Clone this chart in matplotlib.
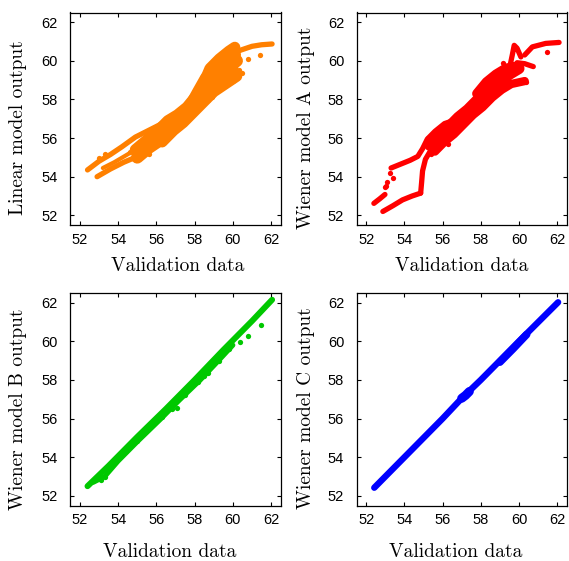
import matplotlib
matplotlib.use("Agg")
import matplotlib.pyplot as plt

# ---------------------------------------------------------------------------
# Linear model output vs validation data (orange)
lin_top_x = [52.4, 53.0, 53.6, 54.2, 54.9, 55.6, 56.3, 56.8]
lin_top_y = [54.35, 54.8, 55.15, 55.55, 56.05, 56.4, 56.75, 57.0]
lin_low_x = [52.9, 53.6, 54.3, 54.9, 55.4]
lin_low_y = [54.0, 54.4, 54.75, 55.0, 55.3]
lin_mid_x = [53.2, 53.8, 54.4, 55.0]
lin_mid_y = [54.45, 54.75, 55.1, 55.45]
lin_c1_x = [54.9, 55.5, 56.1, 56.6, 57.1, 57.6, 58.1, 58.5, 58.8, 59.3, 59.8, 60.1]
lin_c1_y = [55.4, 55.9, 56.4, 56.9, 57.2, 57.6, 58.2, 58.9, 59.6, 60.1, 60.5, 60.7]
lin_c2_x = [55.0, 55.6, 56.2, 56.7, 57.3, 57.8, 58.3, 58.8, 59.3, 59.8, 60.2]
lin_c2_y = [55.0, 55.5, 55.9, 56.3, 56.9, 57.4, 58.0, 58.7, 59.3, 59.7, 60.0]
lin_c3_x = [56.3, 56.9, 57.4, 57.9, 58.4, 59.0, 59.6, 60.2]
lin_c3_y = [55.8, 56.4, 56.8, 57.3, 57.8, 58.4, 58.8, 59.2]
lin_c4_x = [56.4, 56.8, 57.2, 57.7, 58.2, 58.6, 59.1, 59.6, 60.1]
lin_c4_y = [56.4, 56.9, 57.0, 57.5, 58.4, 59.1, 59.6, 60.0, 60.3]
lin_c5_x = [58.5, 59.0, 59.5, 60.0]
lin_c5_y = [58.2, 58.9, 59.3, 59.6]
lin_arc_x = [59.9, 60.4, 61.0, 61.5, 62.05]
lin_arc_y = [60.3, 60.55, 60.75, 60.83, 60.87]
lin_dot_x = [61.42, 60.46, 60.3, 59.94, 60.0, 58.71, 58.9, 56.09, 55.74, 55.9, 53.0, 53.3, 60.78, 55.2, 54.6, 55.6]
lin_dot_y = [60.31, 59.36, 59.5, 59.02, 58.95, 57.98, 58.1, 55.74, 55.48, 55.6, 54.95, 55.15, 60.09, 55.1, 55.3, 55.2]

# Wiener model A output (red)
wa_a_x = [52.4, 52.7, 52.98]
wa_a_y = [52.62, 52.85, 53.08]
wa_b_x = [53.3, 53.8, 54.3, 54.7, 54.95, 55.2, 55.6, 56.1, 56.4]
wa_b_y = [54.45, 54.65, 54.85, 55.05, 55.45, 55.95, 56.35, 56.75, 56.85]
wa_c_x = [52.87, 53.4, 53.9, 54.4, 54.85]
wa_c_y = [52.2, 52.5, 52.8, 53.0, 53.15]
wa_d_x = [54.85, 54.9, 54.95, 55.1, 55.4, 55.7]
wa_d_y = [53.15, 53.7, 54.3, 54.9, 55.4, 55.8]
wa_c1_x = [55.3, 55.8, 56.3, 56.8, 57.3, 57.8, 58.3, 58.8, 59.2]
wa_c1_y = [55.6, 56.2, 56.6, 57.1, 57.5, 58.0, 58.6, 59.0, 59.4]
wa_c2_x = [55.6, 56.1, 56.6, 57.1, 57.6, 58.1, 58.6, 59.1, 59.6, 60.3]
wa_c2_y = [55.3, 55.8, 56.2, 56.7, 57.2, 57.6, 58.1, 58.5, 58.8, 58.95]
wa_c3_x = [55.5, 56.0, 56.5, 57.0, 57.5, 58.0, 58.5, 59.0, 59.5, 60.0]
wa_c3_y = [55.5, 56.0, 56.4, 56.9, 57.4, 57.8, 58.3, 58.9, 59.3, 59.6]
wa_c4_x = [57.8, 58.3, 58.8, 59.3, 59.8]
wa_c4_y = [58.3, 58.9, 59.3, 59.6, 59.7]
wa_spike_x = [59.5, 59.65, 59.75, 59.9, 60.1]
wa_spike_y = [59.6, 60.3, 60.8, 60.65, 60.2]
wa_spray_x = [59.9, 60.3, 60.75]
wa_spray_y = [59.9, 59.85, 59.7]
wa_arc_x = [60.3, 60.7, 61.4, 62.1]
wa_arc_y = [60.3, 60.72, 60.9, 60.95]
wa_dot_x = [53.05, 53.1, 53.25, 53.4, 53.0, 55.23, 55.58, 55.84, 61.48, 59.16, 60.38, 55.4, 56.3]
wa_dot_y = [53.5, 53.75, 54.2, 53.95, 53.45, 56.0, 55.91, 56.09, 60.48, 59.88, 58.9, 55.2, 55.7]

# Wiener model B output (green)
wb_main_x = [52.4, 53.5, 55.0, 56.5, 58.0, 59.5, 61.0, 62.05]
wb_main_y = [52.5, 53.55, 55.05, 56.5, 58.0, 59.55, 61.05, 62.15]
wb_low_x = [52.7, 53.3, 54.0, 55.0, 56.2, 57.2, 58.3, 59.3, 60.0]
wb_low_y = [52.7, 53.0, 53.8, 54.8, 55.95, 56.95, 58.0, 59.05, 59.8]
wb_dot_x = [53.1, 53.3, 54.4, 55.0, 56.0, 56.3, 56.8, 57.1, 57.5, 58.2, 58.5, 58.7, 59.3, 59.8, 60.35, 60.8, 61.45]
wb_dot_y = [52.8, 53.0, 54.3, 54.85, 55.85, 56.1, 56.5, 56.55, 57.2, 57.9, 58.2, 58.35, 59.0, 59.6, 59.98, 60.3, 60.85]

# Wiener model C output (blue)
wc_main_x = [52.42, 54.0, 56.0, 57.0, 58.0, 60.0, 62.05]
wc_main_y = [52.42, 54.0, 56.0, 57.05, 58.0, 60.0, 62.02]
wc_bulge_x = [57.0, 57.2, 57.4]
wc_bulge_y = [57.05, 57.2, 57.4]
wc_thick_x = [59.0, 59.7, 60.4]
wc_thick_y = [58.92, 59.62, 60.35]

ticks = [52, 54, 56, 58, 60, 62]
xlabel = "Validation data"
ylabels = ["Linear model output", "Wiener model A output",
           "Wiener model B output", "Wiener model C output"]

ORANGE = "#ff8000"
RED = "#ff0000"
GREEN = "#00c800"
BLUE = "#0000ff"

W, H = 569, 561
fig = plt.figure(figsize=(W / 100, H / 100), dpi=100)


def box(left, top, right, bottom):
    return fig.add_axes([left / W, 1 - bottom / H, (right - left) / W, (bottom - top) / H])


def trace(ax, x, y, color, lw):
    ax.plot(x, y, color=color, lw=lw, solid_capstyle="round", solid_joinstyle="round")


def dots(ax, x, y, color, ms=3.8):
    ax.plot(x, y, "o", color=color, ms=ms, mec="none")


axes = [box(70.3, 12.5, 280.7, 225), box(356.7, 12.5, 566.7, 225),
        box(70.3, 293, 280.7, 505.5), box(356.7, 293, 566.7, 505.5)]

for ax in axes:
    ax.set_xlim(51.5, 62.5)
    ax.set_ylim(51.5, 62.5)
    ax.set_xticks(ticks)
    ax.set_yticks(ticks)
    ax.tick_params(direction="in", top=True, right=True, length=3, width=0.8,
                   labelsize=10.5)
    ax.tick_params(axis="x", pad=5.5)
    ax.tick_params(axis="y", pad=9)
    for lab in ax.get_xticklabels() + ax.get_yticklabels():
        lab.set_fontfamily("Liberation Sans")
    for s in ax.spines.values():
        s.set_linewidth(0.9)

# Linear model
ax = axes[0]
trace(ax, lin_top_x, lin_top_y, ORANGE, 3.8)
trace(ax, lin_low_x, lin_low_y, ORANGE, 3.8)
trace(ax, lin_mid_x, lin_mid_y, ORANGE, 3.0)
trace(ax, lin_c1_x, lin_c1_y, ORANGE, 8)
trace(ax, lin_c2_x, lin_c2_y, ORANGE, 9)
trace(ax, lin_c3_x, lin_c3_y, ORANGE, 8)
trace(ax, lin_c4_x, lin_c4_y, ORANGE, 9)
trace(ax, lin_c5_x, lin_c5_y, ORANGE, 8)
trace(ax, lin_arc_x, lin_arc_y, ORANGE, 3.8)
dots(ax, lin_dot_x, lin_dot_y, ORANGE)

# Wiener model A
ax = axes[1]
trace(ax, wa_a_x, wa_a_y, RED, 3.8)
trace(ax, wa_b_x, wa_b_y, RED, 3.8)
trace(ax, wa_c_x, wa_c_y, RED, 3.8)
trace(ax, wa_d_x, wa_d_y, RED, 3.8)
trace(ax, wa_c1_x, wa_c1_y, RED, 7)
trace(ax, wa_c2_x, wa_c2_y, RED, 6)
trace(ax, wa_c3_x, wa_c3_y, RED, 8)
trace(ax, wa_c4_x, wa_c4_y, RED, 7)
trace(ax, wa_spike_x, wa_spike_y, RED, 3.8)
trace(ax, wa_spray_x, wa_spray_y, RED, 3.8)
trace(ax, wa_arc_x, wa_arc_y, RED, 3.8)
dots(ax, wa_dot_x, wa_dot_y, RED)

# Wiener model B
ax = axes[2]
trace(ax, wb_main_x, wb_main_y, GREEN, 4.3)
trace(ax, wb_low_x, wb_low_y, GREEN, 3.6)
dots(ax, wb_dot_x, wb_dot_y, GREEN)

# Wiener model C
ax = axes[3]
trace(ax, wc_main_x, wc_main_y, BLUE, 4.6)
trace(ax, wc_bulge_x, wc_bulge_y, BLUE, 6.5)
trace(ax, wc_thick_x, wc_thick_y, BLUE, 5.5)

# Axis titles
label_font = dict(family="cmr10", size=14)
ylab_pos = [(18.3, 127.5), (306, 127.5), (18.5, 409), (306, 408.5)]
xlab_pos = [(177.5, 271.5), (462, 271.5), (169.5, 557), (456, 557)]
for text, (px, py) in zip(ylabels, ylab_pos):
    fig.text(px / W, 1 - py / H, text, rotation=90, ha="center", va="center", **label_font)
for (px, py) in xlab_pos:
    fig.text(px / W, 1 - py / H, xlabel, ha="center", va="baseline", **label_font)

fig.savefig("out.png", dpi=100)
